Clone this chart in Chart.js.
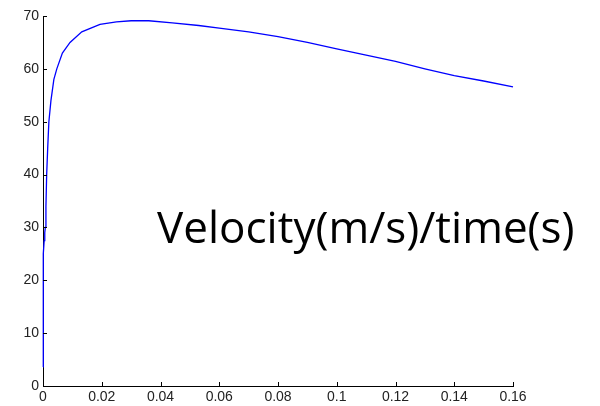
<!DOCTYPE html>
<html>
<head>
<meta charset="utf-8">
<script src="https://cdn.jsdelivr.net/npm/chart.js@4"></script>
<style>
  html, body { margin: 0; padding: 0; background: #fff; }
  #wrap { width: 600px; height: 406px; position: relative; }
</style>
</head>
<body>
<div id="wrap"><canvas id="chart"></canvas></div>
<script>
// time (s) and velocity (m/s)
const times = [0, 0, 0.0001, 0.0002, 0.0004, 0.0006, 0.0008, 0.001, 0.00125, 0.0016,
  0.002, 0.0027, 0.0037, 0.0047, 0.0066, 0.0092, 0.0132, 0.0194, 0.025, 0.03,
  0.036, 0.044, 0.053, 0.06, 0.07, 0.08, 0.09, 0.1, 0.11, 0.12,
  0.13, 0.14, 0.15, 0.16];
const velocities = [3.6, 8, 22, 25, 27.5, 29, 30, 34, 40, 45,
  50, 54, 58, 60, 63, 65, 67, 68.4, 68.9, 69.1,
  69.1, 68.7, 68.2, 67.7, 67.0, 66.1, 65.0, 63.8, 62.6, 61.4,
  60.0, 58.7, 57.7, 56.6];
const xTicks = [0, 0.02, 0.04, 0.06, 0.08, 0.1, 0.12, 0.14, 0.16];
const yTicks = [0, 10, 20, 30, 40, 50, 60, 70];
const label = 'Velocity(m/s)/time(s)';

const points = times.map((t, i) => ({ x: t, y: velocities[i] }));

// MATLAB style ticks pointing into the plot, plus the big caption
const innerTicks = {
    id: 'innerTicks',
    afterDraw(chart) {
        const ctx = chart.ctx;
        const xs = chart.scales.x, ys = chart.scales.y;
        const area = chart.chartArea;
        ctx.save();
        ctx.strokeStyle = '#000';
        ctx.lineWidth = 1;
        ctx.beginPath();
        xTicks.forEach(v => {
            const px = Math.round(xs.getPixelForValue(v)) + 0.5;
            ctx.moveTo(px, area.bottom);
            ctx.lineTo(px, area.bottom - 4);
        });
        yTicks.forEach(v => {
            const py = Math.round(ys.getPixelForValue(v)) + 0.5;
            ctx.moveTo(area.left, py);
            ctx.lineTo(area.left + 4, py);
        });
        ctx.stroke();
        ctx.fillStyle = '#000';
        ctx.font = '44px "Open Sans"';
        ctx.textAlign = 'left';
        ctx.textBaseline = 'alphabetic';
        ctx.fillText(label, 157, 243);
        ctx.restore();
    }
};

new Chart(document.getElementById('chart'), {
    type: 'scatter',
    data: {
        datasets: [{
            data: points,
            showLine: true,
            borderColor: '#0000ff',
            borderWidth: 1.3,
            pointRadius: 0,
            tension: 0,
            clip: false,
        }],
    },
    options: {
        responsive: true,
        maintainAspectRatio: false,
        animation: false,
        layout: { padding: { top: 16, right: 87, left: 0, bottom: 0 } },
        plugins: { legend: { display: false }, tooltip: { enabled: false } },
        scales: {
            x: {
                type: 'linear',
                min: 0,
                max: 0.16,
                afterBuildTicks: s => { s.ticks = xTicks.map(v => ({ value: v })); },
                afterFit: s => { s.height = 20; },
                grid: { display: false, drawTicks: false },
                border: { display: true, color: '#000', width: 1 },
                ticks: {
                    color: '#222',
                    font: { family: 'Liberation Sans', size: 14 },
                    padding: 3,
                    maxRotation: 0,
                    callback: v => String(Math.round(v * 100) / 100),
                },
            },
            y: {
                min: 0,
                max: 70,
                afterBuildTicks: s => { s.ticks = yTicks.map(v => ({ value: v })); },
                afterFit: s => { s.width = 43; },
                grid: { display: false, drawTicks: false },
                border: { display: true, color: '#000', width: 1 },
                ticks: {
                    color: '#222',
                    font: { family: 'Liberation Sans', size: 14 },
                    padding: 4,
                },
            },
        },
    },
    plugins: [innerTicks],
});
</script>
</body>
</html>
